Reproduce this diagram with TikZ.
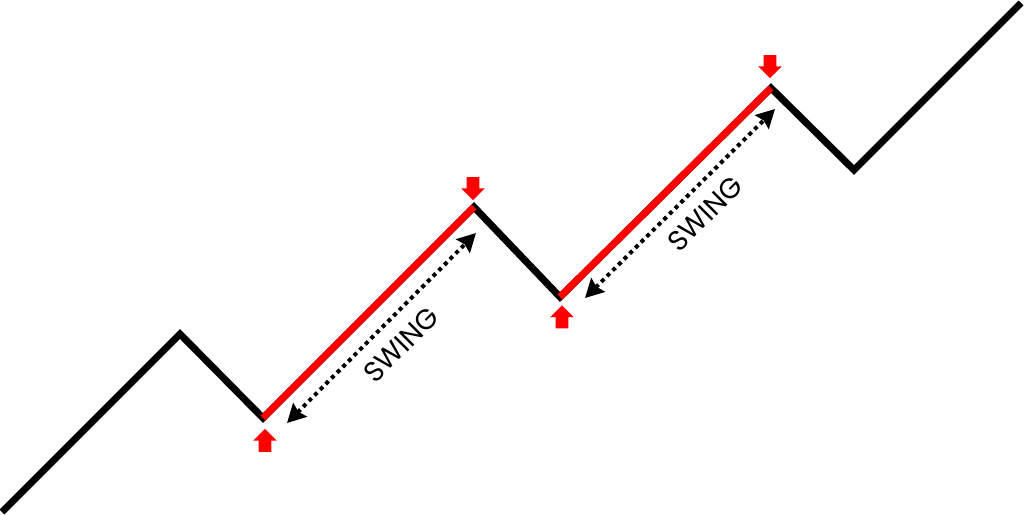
\documentclass[tikz,border=0pt]{standalone}
\usepackage{fontspec}
\setmainfont{Poppins}
\usetikzlibrary{arrows.meta,shapes.arrows}

\begin{document}
\begin{tikzpicture}[x=0.025cm,y=-0.025cm,
    leg/.style={line width=0.175cm,miter limit=10},
    pivotarrow/.style={single arrow,fill=red,draw=none,
        inner xsep=0pt,inner ysep=0.15cm,
        minimum height=0.575cm,
        single arrow head extend=0.1375cm},
    swingarrow/.style={line width=0.1cm,dash pattern=on 0.1cm off 0.1cm,
        {Stealth[length=0.46cm,width=0.48cm,inset=0.06cm]}-{Stealth[length=0.46cm,width=0.48cm,inset=0.06cm]}},
    swinglabel/.style={rotate=45,inner sep=0pt,font=\fontsize{20}{20}\selectfont}]
    \useasboundingbox (0,0) rectangle (1024,514);

    \coordinate (p0) at (2,512);
    \coordinate (p1) at (180,334);
    \coordinate (p2) at (263,418);
    \coordinate (p3) at (474,207);
    \coordinate (p4) at (560,297);
    \coordinate (p5) at (771,88);
    \coordinate (p6) at (854,170);
    \coordinate (p7) at (1021,3);

    \node[pivotarrow,rotate=90] (up1) at (265,443.5) {};
    \node[pivotarrow,rotate=-90] (dn1) at (473,185.5) {};
    \node[pivotarrow,rotate=90] (up2) at (562,320) {};
    \node[pivotarrow,rotate=-90] (dn2) at (770,63.5) {};

    \coordinate (s1a) at (287,423);
    \coordinate (s1b) at (476,233);
    \coordinate (s2a) at (585,298);
    \coordinate (s2b) at (775,109);

    \node[swinglabel] (sw1) at (401,345) {SWING};
    \node[swinglabel] (sw2) at (705,214) {SWING};

    \draw[leg] (p0) -- (p1) -- (p2) -- (p3) -- (p4) -- (p5) -- (p6) -- (p7);
    \draw[leg,red] (p2) -- (p3);
    \draw[leg,red] (p4) -- (p5);

    \draw[swingarrow] (s1a) -- (s1b);
    \draw[swingarrow] (s2a) -- (s2b);
\end{tikzpicture}
\end{document}
